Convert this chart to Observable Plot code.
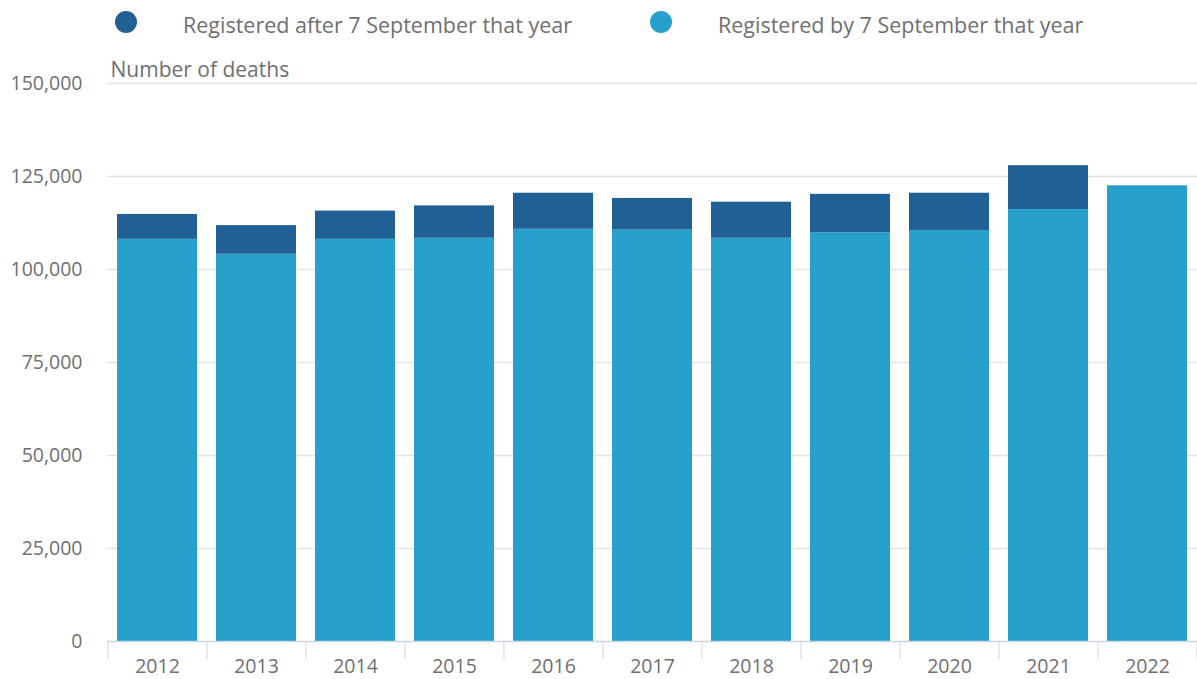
<!DOCTYPE html>
<html><head><meta charset="utf-8">
<script src="https://cdn.jsdelivr.net/npm/d3@7"></script>
<script src="https://cdn.jsdelivr.net/npm/@observablehq/plot@0.6"></script>
<style>
body{margin:0;background:#fff;font-family:"Open Sans",sans-serif;}
#legend{position:relative;height:44px;width:1197px;}
.item{position:absolute;top:2px;height:44px;display:flex;align-items:center;font-size:21.5px;color:#707070;white-space:nowrap;}
.sw{width:22px;height:22px;border-radius:50%;margin-right:46px;position:relative;top:-2px;}
</style></head><body>
<div id="legend"></div><div id="chart"></div>
<script>
const years = ["2012","2013","2014","2015","2016","2017","2018","2019","2020","2021","2022"];
const registeredBy = [108100,104100,108100,108400,110800,110600,108400,109900,110500,116100,122500];
const registeredAfter = [6700,7700,7600,8700,9700,8500,9700,10300,10000,11800,0];
const seriesNames = ["Registered after 7 September that year","Registered by 7 September that year"];
const seriesColors = ["#206095","#27a0cc"];
const yTicks = [0,25000,50000,75000,100000,125000,150000];
const yLabel = "Number of deaths";

const legend = document.getElementById("legend");
const legendLeft = [115, 650];
seriesNames.forEach((s,i)=>{
  const d = document.createElement("div");
  d.className="item"; d.style.left = legendLeft[i]+"px";
  const sw = document.createElement("span"); sw.className="sw"; sw.style.background=seriesColors[i];
  const t = document.createElement("span"); t.textContent=s;
  d.appendChild(sw); d.appendChild(t); legend.appendChild(d);
});

const data = years.flatMap((y,i)=>[
  {year:y, series:seriesNames[1], value:registeredBy[i]},
  {year:y, series:seriesNames[0], value:registeredAfter[i]}
]);

const W = 1197, ML = 107, MR = 0;
const half = (W-ML-MR)/years.length/2;

const chart = Plot.plot({
  width:W, height:635, marginLeft:ML, marginRight:MR, marginTop:39, marginBottom:38,
  style:{fontFamily:"Open Sans", fontSize:"19.5px", color:"#707070", background:"#fff", overflow:"visible"},
  x:{domain:years, paddingInner:0.19, paddingOuter:0.095, label:null},
  y:{domain:[0,150000], label:null},
  color:{domain:seriesNames, range:seriesColors},
  marks:[
    Plot.gridY(yTicks.filter(d=>d>0), {stroke:"#e4e4e4", strokeOpacity:1, strokeWidth:1.5}),
    Plot.barY(data, {x:"year", y:"value", fill:"series"}),
    Plot.axisY(yTicks, {tickSize:0, tickPadding:25, tickFormat:d3.format(","), label:null, fill:"#707070"}),
    Plot.axisX({tickSize:0, tickPadding:18, label:null, fill:"#707070"}),
    Plot.axisX({tickSize:18, text:null, dx:-half, stroke:"#ccd6e2", label:null}),
    Plot.axisX([years[years.length-1]], {tickSize:18, text:null, dx:half, stroke:"#ccd6e2", label:null}),
    Plot.ruleY([0], {stroke:"#ccd6e2", strokeWidth:1.5}),
    Plot.text([yLabel], {frameAnchor:"top-left", dy:-21, dx:3, textAnchor:"start", fontSize:21, fill:"#707070"})
  ]
});
document.getElementById("chart").appendChild(chart);
</script>
</body></html>
